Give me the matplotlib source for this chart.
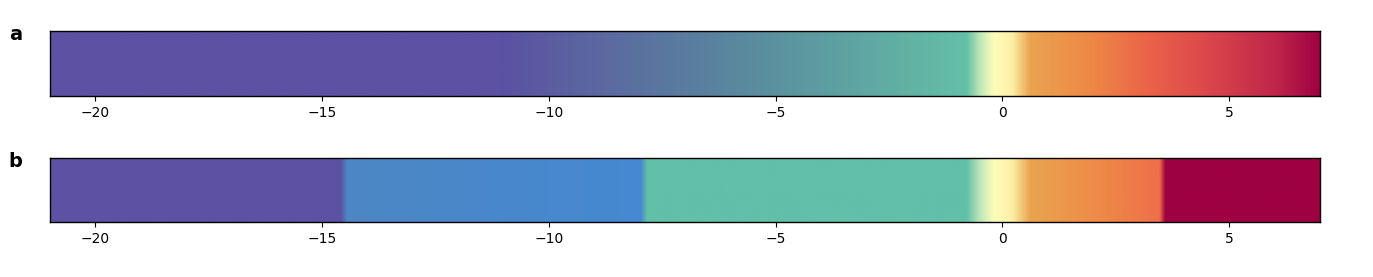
import numpy as np
import matplotlib
matplotlib.use("Agg")
import matplotlib.pyplot as plt
from matplotlib.colors import to_rgb

# value range shown on both bars
x_min, x_max = -21, 7
ticks = [-20, -15, -10, -5, 0, 5]

# panel a: smooth colour ramp, stops
stops_a = [-21, -11.1, -5.5, -0.8, -0.5, -0.2, 0.2, 0.6, 2.0, 3.1, 4.5, 6.0, 7]
colors_a = ['#5c51a2', '#5c51a2', '#5a8c9e', '#64c0a6', '#bfe8b8', '#fdfdba',
            '#fdf0a6', '#e9a44f', '#ee8646', '#eb6648', '#db474c', '#c0264a', '#9e0142']

# panel b: banded colours with a short blend at each edge
stops_b = [-21, -14.6, -14.45, -10.5, -7.98, -7.85, -0.8, -0.5, -0.2, 0.2, 0.6, 2.0, 3.45, 3.58, 7]
colors_b = ['#5c51a2', '#5c51a2', '#4d87c4', '#4888cd', '#4689d2', '#62bfa8', '#62bfa8',
            '#bfe8b8', '#fdfdba', '#fdf0a6', '#e9a44f', '#ee8c48', '#ef6f48', '#9e0142', '#9e0142']


def ramp(stops, colors, n=1400):
    xs = np.linspace(x_min, x_max, n)
    rgb = np.array([to_rgb(c) for c in colors])
    img = np.stack([np.interp(xs, stops, rgb[:, k]) for k in range(3)], axis=-1)
    return img[np.newaxis, :, :]


fig = plt.figure(figsize=(13.73, 2.77), dpi=100)
ax_a = fig.add_axes([0.0364, 0.653, 0.925, 0.235])
ax_b = fig.add_axes([0.0364, 0.199, 0.925, 0.231])

for ax, stops, colors, label in ((ax_a, stops_a, colors_a, 'a'), (ax_b, stops_b, colors_b, 'b')):
    ax.imshow(ramp(stops, colors), extent=[x_min, x_max, 0, 1], aspect='auto',
              interpolation='bilinear')
    ax.set_xlim(x_min, x_max)
    ax.set_ylim(0, 1)
    ax.set_yticks([])
    ax.set_xticks(ticks)
    ax.set_xticklabels([str(t).replace('-', '\u2212') for t in ticks])
    ax.tick_params(axis='x', labelsize=10, length=3.5)
    for s in ax.spines.values():
        s.set_linewidth(1.0)
    ax.text(-0.027, 0.95, label, transform=ax.transAxes, fontsize=14,
            fontweight='bold', ha='center', va='center')

fig.savefig("out.png", dpi=100, facecolor='white')
